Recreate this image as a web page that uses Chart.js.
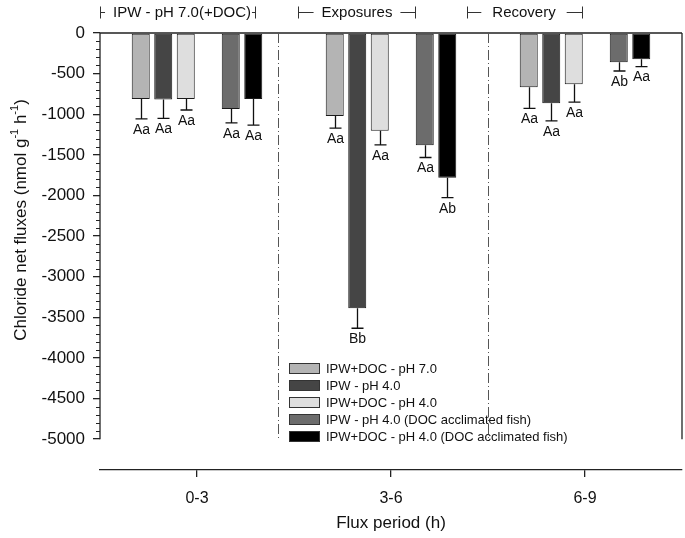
<!DOCTYPE html>
<html lang="en">
<head>
<meta charset="UTF-8">
<title>Chloride net fluxes</title>
<script src="https://cdn.jsdelivr.net/npm/chart.js"></script>
<style>
  body { margin: 0; background: #fff; }
  #wrap { width: 685px; height: 538px; }
</style>
</head>
<body>
<div id="wrap"><canvas id="chart" width="685" height="538"></canvas></div>
<script>
// categories
const periods = ['0-3', '3-6', '6-9'];

// series (mean flux, nmol g-1 h-1)
const ipwDocPh7 = [-813, -1022, -669];
const ipwPh4 = [-820, -3390, -866];
const ipwDocPh4 = [-813, -1203, -632];
const ipwPh4Acc = [-936, -1383, -361];
const ipwDocPh4Acc = [-813, -1782, -324];

// standard errors
const errDocPh7 = [245, 150, 260];
const errPh4 = [230, 245, 215];
const errDocPh4 = [135, 175, 220];
const errPh4Acc = [170, 150, 107];
const errDocPh4Acc = [320, 245, 90];

// significance letters
const letDocPh7 = ['Aa', 'Aa', 'Aa'];
const letPh4 = ['Aa', 'Bb', 'Aa'];
const letDocPh4 = ['Aa', 'Aa', 'Aa'];
const letPh4Acc = ['Aa', 'Aa', 'Ab'];
const letDocPh4Acc = ['Aa', 'Ab', 'Aa'];

// y axis ticks
const yMajor = [0, -500, -1000, -1500, -2000, -2500, -3000, -3500, -4000, -4500, -5000];
const yMinorStep = 100;

const FONT = 'Arial, "Liberation Sans", sans-serif';

const series = [
  { label: 'IPW+DOC - pH 7.0', data: ipwDocPh7, err: errDocPh7, letters: letDocPh7, color: '#b4b4b4' },
  { label: 'IPW - pH 4.0', data: ipwPh4, err: errPh4, letters: letPh4, color: '#454545' },
  { label: 'IPW+DOC - pH 4.0', data: ipwDocPh4, err: errDocPh4, letters: letDocPh4, color: '#dedede' },
  null, // empty slot between the two groups of bars
  { label: 'IPW - pH 4.0 (DOC acclimated fish)', data: ipwPh4Acc, err: errPh4Acc, letters: letPh4Acc, color: '#6c6c6c' },
  { label: 'IPW+DOC - pH 4.0 (DOC acclimated fish)', data: ipwDocPh4Acc, err: errDocPh4Acc, letters: letDocPh4Acc, color: '#000000' }
];

const datasets = series.map(s => s ? {
  label: s.label,
  data: s.data,
  backgroundColor: s.color,
  borderColor: '#1a1a1a',
  borderWidth: 1,
  borderSkipped: false
} : { label: '', data: periods.map(() => null) });

const Y_MIN = -5000;
const Y_AXIS_MIN = -5380; // leaves room so x axis sits below -5000

const decor = {
  id: 'decor',
  afterDatasetsDraw(chart) {
    const ctx = chart.ctx;
    const ys = chart.scales.y, xs = chart.scales.x;
    const area = chart.chartArea;
    const y0 = ys.getPixelForValue(0);
    const yEnd = ys.getPixelForValue(Y_MIN);
    ctx.save();

    // frame: zero line, left axis, right edge
    ctx.strokeStyle = '#222';
    ctx.lineWidth = 1.3;
    ctx.beginPath();
    ctx.moveTo(area.left, y0); ctx.lineTo(area.right, y0);
    ctx.moveTo(area.left, y0); ctx.lineTo(area.left, yEnd);
    ctx.moveTo(area.right, y0); ctx.lineTo(area.right, yEnd);
    ctx.stroke();

    // minor ticks
    ctx.lineWidth = 1;
    ctx.beginPath();
    for (let v = 0; v >= Y_MIN; v -= yMinorStep) {
      if (v % 500 === 0) continue;
      const py = Math.round(ys.getPixelForValue(v)) + 0.5;
      ctx.moveTo(area.left - 4, py); ctx.lineTo(area.left, py);
    }
    ctx.stroke();

    // dash-dot dividers
    ctx.strokeStyle = '#555';
    ctx.lineWidth = 1;
    ctx.setLineDash([10, 3, 1, 3]);
    [0.42, 1.5].forEach(c => {
      const px = Math.round(xs.getPixelForValue(c)) + 0.5;
      ctx.beginPath();
      ctx.moveTo(px, y0); ctx.lineTo(px, yEnd);
      ctx.stroke();
    });
    ctx.setLineDash([]);

    // error bars and letters
    series.forEach((s, i) => {
      if (!s) return;
      const meta = chart.getDatasetMeta(i);
      meta.data.forEach((bar, j) => {
        const ye = ys.getPixelForValue(s.data[j] - s.err[j]);
        const bx = Math.round(bar.x) + 0.5;
        ctx.strokeStyle = '#111';
        ctx.lineWidth = 1.3;
        ctx.beginPath();
        ctx.moveTo(bx, bar.y); ctx.lineTo(bx, ye);
        ctx.moveTo(bx - 6, ye); ctx.lineTo(bx + 6, ye);
        ctx.stroke();
        ctx.fillStyle = '#111';
        ctx.font = '14px ' + FONT;
        ctx.textAlign = 'center';
        ctx.textBaseline = 'top';
        ctx.fillText(s.letters[j], bx, ye + 4);
      });
    });

    // legend
    let ly = 363;
    series.forEach(s => {
      if (!s) return;
      ctx.fillStyle = s.color;
      ctx.fillRect(289, ly, 30, 10);
      ctx.strokeStyle = '#333';
      ctx.lineWidth = 1;
      ctx.strokeRect(289.5, ly + 0.5, 30, 10);
      ctx.fillStyle = '#111';
      ctx.font = '13px ' + FONT;
      ctx.textAlign = 'left';
      ctx.textBaseline = 'middle';
      ctx.fillText(s.label, 326, ly + 6);
      ly += 17;
    });

    // period headers
    const headers = [
      { text: 'IPW - pH 7.0(+DOC)', from: 100, to: 255, cx: 182, gap: 8 },
      { text: 'Exposures', from: 298, to: 415, cx: 357, gap: 8 },
      { text: 'Recovery', from: 467, to: 582, cx: 524, gap: 11 }
    ];
    ctx.font = '15px ' + FONT;
    ctx.textAlign = 'center';
    ctx.textBaseline = 'middle';
    headers.forEach(h => {
      const w = ctx.measureText(h.text).width;
      const hy = 12.5;
      ctx.fillStyle = '#111';
      ctx.fillText(h.text, h.cx, hy);
      ctx.strokeStyle = '#333';
      ctx.lineWidth = 1;
      ctx.beginPath();
      ctx.moveTo(h.from + 0.5, hy - 6); ctx.lineTo(h.from + 0.5, hy + 6);
      ctx.moveTo(h.from, hy); ctx.lineTo(h.cx - w / 2 - h.gap, hy);
      ctx.moveTo(h.cx + w / 2 + (h.text[0] === 'I' ? 1 : h.gap), hy); ctx.lineTo(h.to, hy);
      ctx.moveTo(h.to + 0.5, hy - 6); ctx.lineTo(h.to + 0.5, hy + 6);
      ctx.stroke();
    });

    // y title with superscripts
    ctx.translate(21, 220);
    ctx.rotate(-Math.PI / 2);
    const parts = [
      ['Chloride net fluxes (nmol g', false], ['-1', true], [' h', false], ['-1', true], [')', false]
    ];
    const big = '17px ' + FONT, small = '11px ' + FONT;
    let total = 0;
    parts.forEach(p => { ctx.font = p[1] ? small : big; total += ctx.measureText(p[0]).width; });
    let tx = -total / 2;
    ctx.textAlign = 'left';
    ctx.textBaseline = 'middle';
    ctx.fillStyle = '#111';
    parts.forEach(p => {
      ctx.font = p[1] ? small : big;
      ctx.fillText(p[0], tx, p[1] ? -6 : 0);
      tx += ctx.measureText(p[0]).width;
    });
    ctx.restore();
  }
};

new Chart(document.getElementById('chart'), {
  type: 'bar',
  data: { labels: periods, datasets },
  options: {
    responsive: false,
    animation: false,
    layout: { padding: { top: 33, right: 3, left: 0, bottom: 0 } },
    categoryPercentage: 0.696,
    barPercentage: 0.8,
    plugins: { legend: { display: false }, tooltip: { enabled: false } },
    scales: {
      x: {
        offset: true,
        grid: { offset: false, drawOnChartArea: false, tickLength: 7, color: '#222', lineWidth: 1.3 },
        border: { display: true, color: '#222', width: 1.3 },
        ticks: { color: '#111', font: { family: FONT, size: 16 }, padding: 12 },
        title: { display: true, text: 'Flux period (h)', color: '#111', font: { family: FONT, size: 17 }, padding: { top: 8 } },
        afterFit(scale) { scale.height = 68; }
      },
      y: {
        min: Y_AXIS_MIN,
        max: 0,
        afterBuildTicks(scale) { scale.ticks = yMajor.map(v => ({ value: v })); },
        grid: { drawOnChartArea: false, tickLength: 7, color: '#222', lineWidth: 1.3 },
        border: { display: false },
        ticks: { color: '#111', font: { family: FONT, size: 17 }, padding: 8, callback: v => String(v) },
        afterFit(scale) { scale.width = 100; }
      }
    }
  },
  plugins: [decor]
});
</script>
</body>
</html>
